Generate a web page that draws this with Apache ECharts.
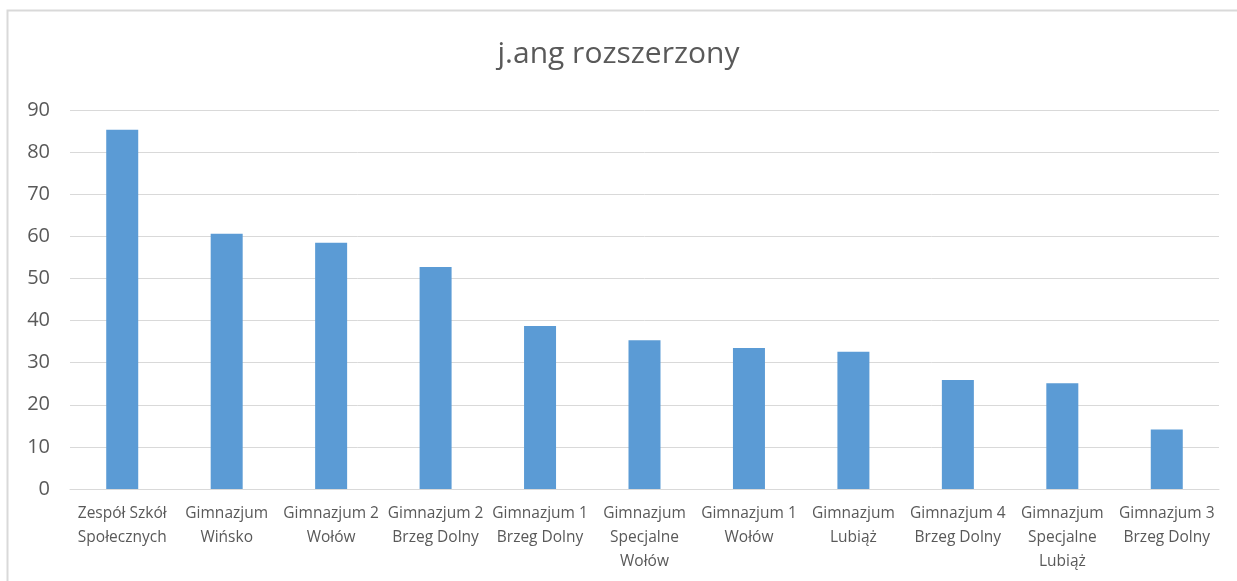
<!DOCTYPE html>
<html>
<head>
<meta charset="utf-8">
<script src="https://cdn.jsdelivr.net/npm/echarts@6/dist/echarts.min.js"></script>
<style>
  html, body { margin: 0; padding: 0; background: #fff; }
  #main { width: 1237px; height: 581px; }
</style>
</head>
<body>
<div id="main"></div>
<script>
// kategorie (szkoły) - z zawinięciem jak na oryginale
const categories = [
  'Zespół Szkół\nSpołecznych',
  'Gimnazjum\nWińsko',
  'Gimnazjum 2\nWołów',
  'Gimnazjum 2\nBrzeg Dolny',
  'Gimnazjum 1\nBrzeg Dolny',
  'Gimnazjum\nSpecjalne\nWołów',
  'Gimnazjum 1\nWołów',
  'Gimnazjum\nLubiąż',
  'Gimnazjum 4\nBrzeg Dolny',
  'Gimnazjum\nSpecjalne\nLubiąż',
  'Gimnazjum 3\nBrzeg Dolny'
]
// wyniki j.ang rozszerzony
const values = [85.3, 60.6, 58.5, 52.7, 38.7, 35.3, 33.5, 32.6, 25.9, 25.1, 14.1]
const yTicks = [0, 10, 20, 30, 40, 50, 60, 70, 80, 90]

const font = '"Open Sans", sans-serif'
const chart = echarts.init(document.getElementById('main'))

chart.setOption({
  animation: false,
  backgroundColor: '#fff',
  // ramka wykresu
  graphic: [{
    type: 'rect',
    shape: { x: 7.5, y: 10.5, width: 1260, height: 600 },
    style: { fill: 'none', stroke: '#d9d9d9', lineWidth: 2 },
    silent: true
  }],
  title: {
    text: 'j.ang rozszerzony',
    left: 'center',
    top: 34,
    textStyle: { fontFamily: font, fontSize: 30, fontWeight: 'normal', color: '#595959' }
  },
  grid: { left: 70, right: 18, top: 110, bottom: 92 },
  xAxis: {
    type: 'category',
    data: categories,
    axisLine: { lineStyle: { color: '#d9d9d9', width: 1 } },
    axisTick: { show: false },
    axisLabel: {
      interval: 0,
      margin: 13,
      color: '#595959',
      fontFamily: font,
      fontSize: 15.5,
      lineHeight: 24
    }
  },
  yAxis: {
    type: 'value',
    min: yTicks[0],
    max: yTicks[yTicks.length - 1],
    interval: 10,
    axisLine: { show: false },
    axisTick: { show: false },
    splitLine: { lineStyle: { color: '#d9d9d9', width: 1 } },
    axisLabel: { margin: 20, color: '#595959', fontFamily: font, fontSize: 20 }
  },
  series: [{
    type: 'bar',
    data: values,
    barWidth: 32,
    itemStyle: { color: '#5b9bd5' }
  }]
})
</script>
</body>
</html>
